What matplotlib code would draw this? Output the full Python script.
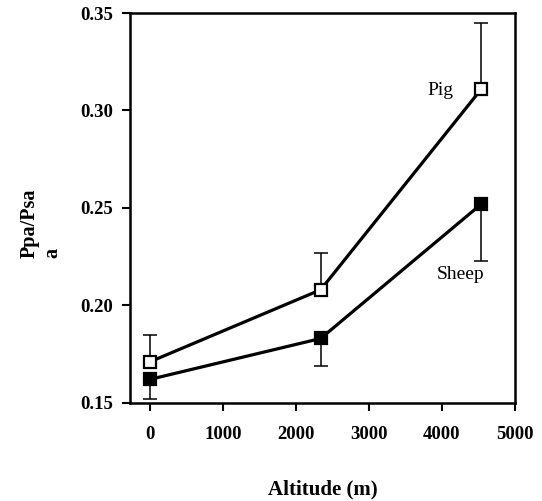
import numpy as np
import matplotlib
matplotlib.use('Agg')
import matplotlib.pyplot as plt

# altitude (m) and Ppa/Psa ratio
altitude = [0, 2340, 4540]
pig_ratio = [0.171, 0.208, 0.311]
pig_err = [0.014, 0.019, 0.034]      # upper bars only
sheep_ratio = [0.162, 0.183, 0.252]
sheep_err = [0.010, 0.014, 0.029]    # lower bars only

x_ticks = [0, 1000, 2000, 3000, 4000, 5000]
y_ticks = [0.15, 0.20, 0.25, 0.30, 0.35]

plt.rcParams['font.family'] = ['Liberation Serif', 'DejaVu Serif']

fig = plt.figure(figsize=(5.42, 5.01), dpi=100)
ax = fig.add_axes([0.240, 0.196, 0.710, 0.778])

zeros = np.zeros(len(altitude))
ax.errorbar(altitude, pig_ratio, yerr=[zeros, pig_err], fmt='none',
            ecolor='black', elinewidth=1.1, capsize=5, capthick=1.1, zorder=1)
ax.errorbar(altitude, sheep_ratio, yerr=[sheep_err, zeros], fmt='none',
            ecolor='black', elinewidth=1.1, capsize=5, capthick=1.1, zorder=1)
ax.plot(altitude, pig_ratio, color='black', lw=2.3, marker='s', ms=9,
        mfc='white', mec='black', mew=1.6, zorder=3)
ax.plot(altitude, sheep_ratio, color='black', lw=2.3, marker='s', ms=9,
        mfc='black', mec='black', mew=1.6, zorder=3)

ax.text(4160, 0.3105, 'Pig', fontsize=14, ha='right', va='center')
ax.text(4260, 0.216, 'Sheep', fontsize=14, ha='center', va='center')

ax.set_xlim(-270, 5000)
ax.set_ylim(0.15, 0.35)
ax.set_xticks(x_ticks)
ax.set_yticks(y_ticks)
ax.set_yticklabels(['%.2f' % v for v in y_ticks])
ax.tick_params(direction='out', length=6, width=1.5, labelsize=13.5, pad=6)
ax.tick_params(axis='x', pad=11)
for lab in ax.get_xticklabels() + ax.get_yticklabels():
    lab.set_fontweight('bold')
for sp in ax.spines.values():
    sp.set_linewidth(1.8)

ax.set_xlabel('Altitude (m)', fontsize=15, fontweight='bold', labelpad=26)
ax.set_ylabel('Ppa/Psa\na', fontsize=14.5, fontweight='bold',
              multialignment='left')
ax.yaxis.set_label_coords(-0.175, 0.46)

fig.savefig('out.png', dpi=100)
